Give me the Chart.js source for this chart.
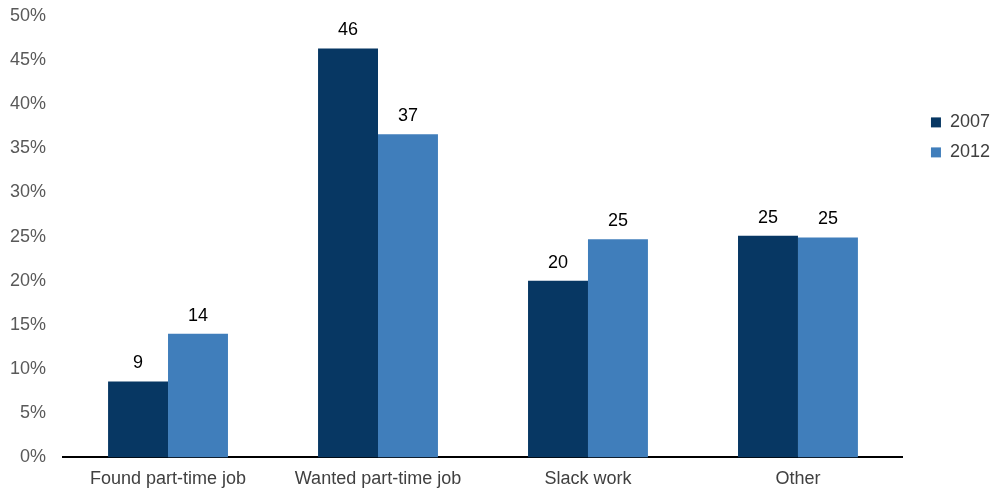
<!DOCTYPE html>
<html>
<head>
<meta charset="utf-8">
<script src="https://cdn.jsdelivr.net/npm/chart.js@4"></script>
<style>
  html, body { margin: 0; padding: 0; background: #fff; }
  #wrap { width: 994px; height: 488px; position: relative; overflow: hidden; }
  #inner { position: absolute; left: -7px; top: -12px; width: 1007px; height: 513px; }
</style>
</head>
<body>
<div id="wrap"><div id="inner"><canvas id="reasonChart"></canvas></div></div>
<script>
var categories = ['Found part-time job', 'Wanted part-time job', 'Slack work', 'Other'];
var values2007 = [8.6, 46.3, 20.0, 25.1];
var values2012 = [14.0, 36.6, 24.7, 24.9];
var yTicks = [0, 5, 10, 15, 20, 25, 30, 35, 40, 45, 50];

var fontFamily = '"Liberation Sans", Arial, sans-serif';

// draws the rounded value above each bar
var barLabels = {
  id: 'barLabels',
  afterDatasetsDraw: function(chart) {
    var ctx = chart.ctx;
    ctx.save();
    ctx.font = '18px ' + fontFamily;
    ctx.fillStyle = '#000';
    ctx.textAlign = 'center';
    ctx.textBaseline = 'alphabetic';
    chart.data.datasets.forEach(function(ds, i) {
      chart.getDatasetMeta(i).data.forEach(function(bar, j) {
        ctx.fillText(Math.round(ds.data[j]), bar.x, bar.y - 13);
      });
    });
    ctx.restore();
  }
};

function buildDataset(data, color, label) {
  return {
    label: label,
    data: data,
    backgroundColor: color,
    borderWidth: 0,
    categoryPercentage: 0.571,
    barPercentage: 1.0
  };
}

new Chart(document.getElementById('reasonChart'), {
  type: 'bar',
  data: {
    labels: categories,
    datasets: [
      buildDataset(values2007, '#073763', '2007'),
      buildDataset(values2012, '#407ebb', '2012')
    ]
  },
  options: {
    responsive: true,
    maintainAspectRatio: false,
    animation: false,
    layout: { padding: 0 },
    plugins: {
      legend: {
        position: 'right',
        align: 'start',
        title: { display: true, text: ' ', padding: { top: 111, bottom: 0 }, font: { size: 2 } },
        labels: {
          boxWidth: 10,
          boxHeight: 10,
          padding: 12,
          color: '#404040',
          font: { size: 18, family: fontFamily }
        }
      },
      tooltip: { enabled: false }
    },
    scales: {
      x: {
        grid: { display: false, drawTicks: false },
        border: { color: '#000', width: 2 },
        ticks: { color: '#404040', padding: 11, font: { size: 18, family: fontFamily } }
      },
      y: {
        min: 0,
        max: 50,
        afterBuildTicks: function(axis) {
          axis.ticks = yTicks.map(function(v) { return { value: v }; });
        },
        grid: { display: false, drawTicks: false },
        border: { display: false },
        ticks: {
          color: '#595959',
          padding: 17,
          font: { size: 18, family: fontFamily },
          callback: function(v) { return v + '%'; }
        }
      },
      // empty axis that only keeps a gap between the bars and the legend
      gap: {
        type: 'linear',
        position: 'right',
        grid: { display: false, drawTicks: false },
        border: { display: false },
        ticks: { display: false },
        afterFit: function(axis) { axis.width = 16; }
      }
    }
  },
  plugins: [barLabels]
});
</script>
</body>
</html>
